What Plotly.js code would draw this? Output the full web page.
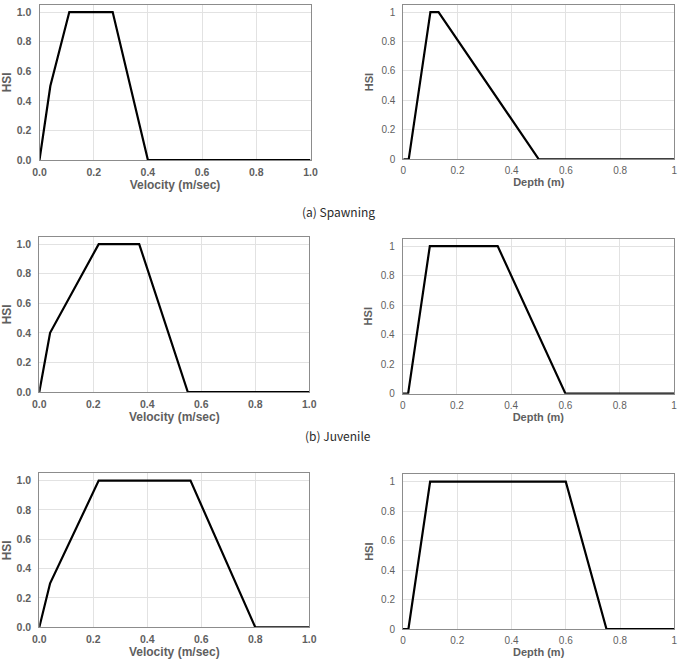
<!DOCTYPE html>
<html><head><meta charset="utf-8">
<script src="https://cdn.plot.ly/plotly-3.0.1.min.js"></script>
<style>html,body{margin:0;padding:0;background:#fff}</style>
</head><body><div id="chart" style="width:679px;height:669px"></div>
<script>
// Spawning
const spawnVelX = [0, 0.04, 0.11, 0.27, 0.40, 1.0];
const spawnVelY = [0, 0.5, 1, 1, 0, 0];
const spawnDepX = [0, 0.02, 0.10, 0.13, 0.50, 1.0];
const spawnDepY = [0, 0, 1, 1, 0, 0];
// Juvenile
const juvVelX = [0, 0.04, 0.22, 0.37, 0.55, 1.0];
const juvVelY = [0, 0.4, 1, 1, 0, 0];
const juvDepX = [0, 0.02, 0.10, 0.35, 0.60, 1.0];
const juvDepY = [0, 0, 1, 1, 0, 0];
// Adult
const adultVelX = [0, 0.04, 0.22, 0.56, 0.80, 1.0];
const adultVelY = [0, 0.3, 1, 1, 0, 0];
const adultDepX = [0, 0.02, 0.10, 0.60, 0.75, 1.0];
const adultDepY = [0, 0, 1, 1, 0, 0];

const captions = ["(a) Spawning", "(b) Juvenile"];
const velTitle = "Velocity (m/sec)";
const depTitle = "Depth (m)";
const yTitle = "HSI";
const tickVals = [0, 0.2, 0.4, 0.6, 0.8, 1.0];
const velTickText = ["0.0", "0.2", "0.4", "0.6", "0.8", "1.0"];
const depTickText = ["0", "0.2", "0.4", "0.6", "0.8", "1"];

const W = 679, H = 669;
const panels = [
  {x: spawnVelX, y: spawnVelY, kind: "vel", box: [39.5, 310.5, 4.7, 160]},
  {x: spawnDepX, y: spawnDepY, kind: "dep", box: [403.3, 674.3, 4.7, 159.3]},
  {x: juvVelX, y: juvVelY, kind: "vel", box: [39.3, 309.3, 236.7, 392]},
  {x: juvDepX, y: juvDepY, kind: "dep", box: [402.7, 674, 238.7, 393.7]},
  {x: adultVelX, y: adultVelY, kind: "vel", box: [39.3, 309.3, 473.3, 627.3]},
  {x: adultDepX, y: adultDepY, kind: "dep", box: [403, 674.3, 474.3, 629]}
];

const grey = "#5f5f5f";
const sans = "'Liberation Sans', Arial, sans-serif";
const capFont = "'Noto Sans CJK KR', 'Noto Sans', sans-serif";
const traces = [];
const layout = {
  width: W, height: H,
  margin: {l: 0, r: 0, t: 0, b: 0},
  paper_bgcolor: "#fff", plot_bgcolor: "#fff",
  showlegend: false,
  annotations: []
};

panels.forEach((p, i) => {
  const n = i + 1;
  const sfx = n === 1 ? "" : String(n);
  traces.push({
    x: p.x, y: p.y, type: "scatter", mode: "lines",
    line: {color: "#000", width: 2.2},
    cliponaxis: false,
    xaxis: "x" + sfx, yaxis: "y" + sfx, hoverinfo: "skip"
  });
  const [l, r, t, b] = p.box;
  const vel = p.kind === "vel";
  const tickFont = vel
    ? {family: sans, size: 10.5, color: grey, weight: 700}
    : {family: sans, size: 10, color: grey, weight: 400};
  layout["xaxis" + sfx] = {
    domain: [l / W, r / W],
    anchor: "y" + sfx,
    range: [0, 1],
    tickvals: tickVals,
    ticktext: vel ? velTickText : depTickText,
    tickfont: tickFont,
    ticks: "", ticklabelstandoff: 2,
    showgrid: true, gridcolor: "#e2e2e2", gridwidth: 1,
    zeroline: false,
    showline: true, linecolor: "#8c8c8c", linewidth: 1, mirror: true,
    title: {text: vel ? velTitle : depTitle, standoff: 2,
      font: {family: sans, size: vel ? 12 : 11, color: grey, weight: 700}},
    fixedrange: true
  };
  layout["yaxis" + sfx] = {
    domain: [1 - b / H, 1 - t / H],
    anchor: "x" + sfx,
    range: [0, 1.05],
    tickvals: tickVals,
    ticktext: vel ? velTickText : depTickText,
    tickfont: tickFont,
    ticks: "", ticklabelstandoff: 5,
    showgrid: true, gridcolor: "#e2e2e2", gridwidth: 1,
    zeroline: false,
    showline: true, linecolor: "#8c8c8c", linewidth: 1, mirror: true,
    title: {text: yTitle, standoff: vel ? 4 : 5,
      font: {family: sans, size: vel ? 12 : 11, color: grey, weight: 700}},
    fixedrange: true
  };
});

[[captions[0], 211], [captions[1], 436]].forEach(([txt, yy]) => {
  layout.annotations.push({
    text: txt, xref: "paper", yref: "paper",
    x: 338 / W, y: 1 - yy / H, showarrow: false,
    xanchor: "center", yanchor: "middle",
    font: {family: capFont, size: 12, color: "#2a2a2a"}
  });
});

Plotly.newPlot("chart", traces, layout, {displayModeBar: false, staticPlot: true});
</script></body></html>
